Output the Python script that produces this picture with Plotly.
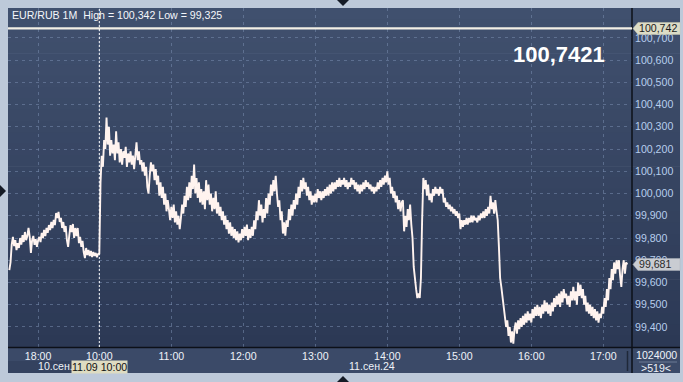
import plotly.graph_objects as go

# ---------------- data ----------------
# 1-minute closes, previous session (10 Sep, 17:36 .. 18:50)
prev_day_values = [
    99.656, 99.69, 99.77, 99.805, 99.764, 99.79, 99.746, 99.777, 99.755, 99.80,
    99.77, 99.813, 99.782, 99.827, 99.79, 99.809, 99.845, 99.805, 99.733, 99.79,
    99.809, 99.769, 99.795, 99.76, 99.79, 99.805, 99.782, 99.823, 99.80, 99.836,
    99.809, 99.845, 99.823, 99.858, 99.836, 99.872, 99.845, 99.881, 99.858, 99.912,
    99.89, 99.917, 99.872, 99.89, 99.845, 99.872, 99.827, 99.854, 99.79, 99.76,
    99.813, 99.858, 99.827, 99.863, 99.80, 99.845, 99.809, 99.845, 99.777, 99.805,
    99.76, 99.787, 99.737, 99.71, 99.755, 99.723, 99.746, 99.719, 99.742, 99.714,
    99.737, 99.719, 99.733, 99.714, 99.728,
]
# 1-minute closes, current session (11 Sep, from 10:00)
session_values = [
    99.73, 100.05, 100.17, 100.12, 100.24, 100.20, 100.342, 100.22, 100.30, 100.17,
    100.24, 100.18, 100.22, 100.15, 100.28, 100.18, 100.23, 100.14, 100.20, 100.13,
    100.19, 100.16, 100.21, 100.12, 100.18, 100.14, 100.19, 100.13, 100.17, 100.11,
    100.16, 100.23, 100.15, 100.19, 100.13, 100.15, 100.10, 100.14, 100.08, 100.12,
    100.03, 100.00, 100.08, 100.14, 100.10, 100.13, 100.06, 100.11, 100.04, 100.08,
    99.99, 100.05, 99.98, 100.03, 99.95, 100.00, 99.92, 99.97, 99.93, 99.88,
    99.94, 99.89, 99.95, 99.87, 99.92, 99.86, 99.90, 99.84, 99.89, 99.95,
    99.91, 99.99, 99.94, 100.03, 99.97, 100.05, 99.98, 100.08, 100.02, 100.13,
    100.00, 100.07, 99.98, 100.05, 99.96, 100.02, 99.95, 100.01, 99.93, 100.06,
    99.97, 100.04, 99.95, 100.00, 99.92, 99.98, 99.93, 100.01, 99.91, 99.96,
    99.90, 99.94, 99.88, 99.92, 99.86, 99.90, 99.84, 99.88, 99.82, 99.87,
    99.81, 99.85, 99.80, 99.84, 99.79, 99.83, 99.78, 99.82, 99.79, 99.84,
    99.80, 99.85, 99.81, 99.86, 99.79, 99.84, 99.80, 99.85, 99.81, 99.88,
    99.84, 99.92, 99.88, 99.97, 99.90, 99.95, 99.87, 99.93, 99.89, 99.98,
    99.91, 100.00, 99.95, 100.04, 99.99, 100.06, 100.01, 100.08, 100.00, 99.94,
    99.97, 99.88, 99.92, 99.82, 99.87, 99.81, 99.88, 99.85, 99.93, 99.88,
    99.95, 99.90, 99.97, 99.93, 100.00, 99.95, 100.03, 99.98, 100.06, 100.01,
    100.07, 100.02, 100.05, 99.99, 100.03, 99.97, 100.01, 99.95, 99.99, 99.96,
    100.00, 99.96, 100.02, 99.98, 100.01, 99.97, 100.01, 99.98, 100.02, 99.99,
    100.03, 99.99, 100.04, 100.00, 100.05, 100.01, 100.05, 100.02, 100.06, 100.03,
    100.07, 100.03, 100.06, 100.04, 100.07, 100.03, 100.06, 100.02, 100.05, 100.03,
    100.07, 100.04, 100.06, 100.02, 100.05, 100.01, 100.04, 100.00, 100.04, 100.01,
    100.05, 100.02, 100.06, 100.03, 100.05, 100.02, 100.04, 100.01, 100.03, 100.00,
    100.03, 100.01, 100.05, 100.02, 100.06, 100.03, 100.07, 100.04, 100.08, 100.05,
    100.10, 100.04, 100.07, 100.00, 100.03, 99.98, 100.01, 99.96, 99.99, 99.93,
    99.97, 99.92, 99.96, 99.97, 99.83, 99.90, 99.85, 99.93, 99.88, 99.95,
    99.86, 99.80, 99.67, 99.60, 99.57, 99.53, 99.55, 99.53, 99.62, 99.88,
    100.07, 100.02, 100.06, 99.99, 100.04, 99.97, 100.00, 99.96, 100.02, 99.99,
    100.03, 100.00, 100.02, 99.99, 100.03, 100.00, 100.02, 99.96, 99.98, 99.94,
    99.96, 99.93, 99.95, 99.92, 99.94, 99.91, 99.93, 99.90, 99.92, 99.89,
    99.91, 99.84, 99.88, 99.85, 99.88, 99.86, 99.89, 99.86, 99.89, 99.87,
    99.90, 99.87, 99.90, 99.88, 99.89, 99.87, 99.90, 99.88, 99.91, 99.89,
    99.92, 99.89, 99.93, 99.90, 99.94, 99.91, 99.99, 99.93, 99.96, 99.91,
    99.97, 99.92, 99.88, 99.76, 99.62, 99.58, 99.54, 99.49, 99.44, 99.40,
    99.43, 99.36, 99.40, 99.33, 99.38, 99.325, 99.39, 99.42, 99.37, 99.43,
    99.39, 99.44, 99.40, 99.45, 99.41, 99.46, 99.42, 99.47, 99.43, 99.46,
    99.42, 99.48, 99.44, 99.49, 99.45, 99.50, 99.45, 99.49, 99.44, 99.50,
    99.46, 99.52, 99.47, 99.51, 99.46, 99.50, 99.45, 99.51, 99.47, 99.53,
    99.49, 99.54, 99.50, 99.55, 99.49, 99.56, 99.51, 99.57, 99.53, 99.55,
    99.50, 99.54, 99.49, 99.56, 99.52, 99.58, 99.52, 99.56, 99.50, 99.60,
    99.54, 99.59, 99.53, 99.57, 99.50, 99.54, 99.47, 99.51, 99.46, 99.50,
    99.45, 99.49, 99.44, 99.48, 99.43, 99.47, 99.42, 99.46, 99.44, 99.49,
    99.46, 99.53, 99.49, 99.57, 99.52, 99.62, 99.57, 99.66, 99.61, 99.69,
    99.64, 99.70, 99.66, 99.70, 99.63, 99.58, 99.66, 99.70, 99.64, 99.69,
    99.681,
]

hour_tick_minutes = [-51, 0, 60, 120, 180, 240, 300, 360, 420]
hour_tick_labels = ["18:00", "10:00", "11:00", "12:00", "13:00",
                    "14:00", "15:00", "16:00", "17:00"]
date_labels = ["10.сен.24", "11.сен.24"]

price_ticks = [99.4, 99.5, 99.6, 99.7, 99.8, 99.9, 100.0,
               100.1, 100.2, 100.3, 100.4, 100.5, 100.6, 100.7]
price_tick_labels = ["99,400", "99,500", "99,600", "99,700", "99,800", "99,900",
                     "100,000", "100,100", "100,200", "100,300", "100,400",
                     "100,500", "100,600", "100,700"]

level_value = 100.742
level_label = "100,742"
last_value = 99.681
last_label = "99,681"
big_quote = "100,7421"
header_text = "EUR/RUB 1M  High = 100,342 Low = 99,325"
cursor_label = "11.09 10:00"
volume_text = "1024000"
bars_text = ">519<"

x_range = [-76.1, 443.9]
y_range = [99.310, 100.834]

# ---------------- figure ----------------
W, H = 683, 382
L, R, T, B = 8, 51, 8, 35          # plot area: x 8..632, y 8..347
PW, PH = W - L - R, H - T - B


def px(x):
    return (x - L) / PW


def py(y):
    return (H - B - y) / PH


FONT = "Arial, 'Liberation Sans', sans-serif"
FS = 10.6

x_prev = list(range(-len(prev_day_values), 0))
x_sess = list(range(len(session_values)))

fig = go.Figure()
fig.add_trace(go.Scatter(
    x=x_prev + x_sess, y=prev_day_values + session_values,
    mode="lines", line=dict(color="#fff3ef", width=1.9),
    hoverinfo="skip", showlegend=False))

shapes = []
# background gradient of dark panel (plot + right scale)
top_c = (64, 80, 110)
bot_c = (44, 57, 85)
N = 30
for k in range(N):
    t = k / (N - 1)
    c = tuple(round(top_c[i] + (bot_c[i] - top_c[i]) * t) for i in range(3))
    y0 = T + k * PH / N
    y1 = T + (k + 1) * PH / N + 0.6
    shapes.append(dict(type="rect", xref="paper", yref="paper", layer="below",
                       x0=px(8), x1=px(680), y0=py(y1), y1=py(y0),
                       line=dict(width=0), fillcolor="rgb(%d,%d,%d)" % c))
# bottom time-scale panel
shapes.append(dict(type="rect", xref="paper", yref="paper", layer="below",
                   x0=px(8), x1=px(680), y0=py(373), y1=py(347),
                   line=dict(width=0), fillcolor="#3b4a68"))
shapes.append(dict(type="rect", xref="paper", yref="paper", layer="below",
                   x0=px(8), x1=px(73), y0=py(373), y1=py(361),
                   line=dict(width=0), fillcolor="#34425f"))
# separators
shapes.append(dict(type="line", xref="paper", yref="paper",
                   x0=px(632), x1=px(632), y0=py(373), y1=py(8),
                   line=dict(color="#0c1018", width=1.5)))
shapes.append(dict(type="line", xref="paper", yref="paper",
                   x0=px(8), x1=px(680), y0=py(347.5), y1=py(347.5),
                   line=dict(color="#0c1018", width=1.5)))
shapes.append(dict(type="line", xref="paper", yref="paper",
                   x0=px(627.5), x1=px(627.5), y0=py(371), y1=py(351),
                   line=dict(color="#1f2839", width=1.5)))
shapes.append(dict(type="line", xref="paper", yref="paper",
                   x0=px(639), x1=px(677), y0=py(362), y1=py(362),
                   line=dict(color="#6d7b95", width=1)))
# level line
shapes.append(dict(type="line", xref="paper", yref="y",
                   x0=0, x1=1, y0=level_value, y1=level_value,
                   line=dict(color="#f3efe6", width=2.2)))
# cursor line
shapes.append(dict(type="line", xref="x", yref="paper",
                   x0=0, x1=0, y0=0, y1=1,
                   line=dict(color="#ffffff", width=1, dash="2px,2px")))
# price markers
shapes.append(dict(type="path", xref="paper", yref="y",
                   xsizemode="pixel", ysizemode="pixel",
                   xanchor=1, yanchor=level_value,
                   path="M1,0 L6,6 L48,6 L48,-6 L6,-6 Z",
                   fillcolor="#dcdcc6", line=dict(color="#c8c8b0", width=0.5)))
shapes.append(dict(type="path", xref="paper", yref="y",
                   xsizemode="pixel", ysizemode="pixel",
                   xanchor=1, yanchor=last_value,
                   path="M1,0 L6,6 L48,6 L48,-6 L6,-6 Z",
                   fillcolor="#c9ccd2", line=dict(color="#b0b4bc", width=0.5)))
# frame triangles
def tri(pts):
    p = "M" + " L".join("%f,%f" % (px(a), py(b)) for a, b in pts) + " Z"
    return dict(type="path", xref="paper", yref="paper", path=p,
                fillcolor="#151b26", line=dict(width=0))

shapes.append(tri([(337, 0), (349, 0), (343, 6)]))
shapes.append(tri([(337, 382), (349, 382), (343, 376)]))
shapes.append(tri([(0, 185), (0, 197), (6, 191)]))

annotations = [
    dict(text=header_text, xref="paper", yref="paper", x=px(9.5), y=py(15),
         xanchor="left", yanchor="middle", showarrow=False,
         font=dict(family=FONT, size=FS, color="#f4f6fa")),
    dict(text="<b>%s</b>" % big_quote, xref="paper", yref="paper",
         x=px(607), y=py(55), xanchor="right", yanchor="middle",
         showarrow=False, font=dict(family=FONT, size=22, color="#ffffff")),
    dict(text=level_label, xref="paper", yref="y", x=1, y=level_value,
         xshift=5, xanchor="left", yanchor="middle", showarrow=False,
         font=dict(family=FONT, size=FS, color="#1a1a1a")),
    dict(text=last_label, xref="paper", yref="y", x=1, y=last_value,
         xshift=5, xanchor="left", yanchor="middle", showarrow=False,
         font=dict(family=FONT, size=FS, color="#2a2a2a")),
    dict(text=date_labels[0], xref="paper", yref="paper", x=px(35.5), y=py(366),
         xanchor="left", yanchor="middle", showarrow=False,
         font=dict(family=FONT, size=FS, color="#eef2f8")),
    dict(text=date_labels[1], xref="paper", yref="paper", x=px(346.5), y=py(366),
         xanchor="left", yanchor="middle", showarrow=False,
         font=dict(family=FONT, size=FS, color="#eef2f8")),
    dict(text=cursor_label, xref="x", yref="paper", x=0, y=py(366.5),
         xanchor="center", yanchor="middle", showarrow=False,
         bgcolor="#dedcc2", borderpad=0,
         font=dict(family=FONT, size=FS, color="#111111")),
    dict(text=volume_text, xref="paper", yref="paper", x=px(656), y=py(355),
         xanchor="center", yanchor="middle", showarrow=False,
         font=dict(family=FONT, size=FS, color="#eef2f8")),
    dict(text=bars_text, xref="paper", yref="paper", x=px(656), y=py(368),
         xanchor="center", yanchor="middle", showarrow=False,
         font=dict(family=FONT, size=FS, color="#eef2f8")),
]

grid_c = "rgba(120,140,175,0.55)"
fig.update_layout(
    width=W, height=H,
    margin=dict(l=L, r=R, t=T, b=B),
    paper_bgcolor="#bdc9d9",
    plot_bgcolor="rgba(0,0,0,0)",
    showlegend=False,
    shapes=shapes,
    annotations=annotations,
    xaxis=dict(range=x_range, tickmode="array", tickvals=hour_tick_minutes,
               ticktext=hour_tick_labels, showgrid=True, gridcolor=grid_c,
               griddash="3px,4px", gridwidth=1, zeroline=False, showline=False,
               ticks="", tickfont=dict(family=FONT, size=FS, color="#eef2f8"),
               ticklabelstandoff=1, fixedrange=True),
    yaxis=dict(range=y_range, side="right", tickmode="array",
               tickvals=price_ticks, ticktext=price_tick_labels,
               showgrid=True, gridcolor=grid_c, griddash="3px,4px", gridwidth=1,
               zeroline=False, showline=False, ticks="",
               tickfont=dict(family=FONT, size=FS, color="#b6cdec"),
               ticklabelstandoff=2, fixedrange=True),
)

fig.write_html("out.html")
